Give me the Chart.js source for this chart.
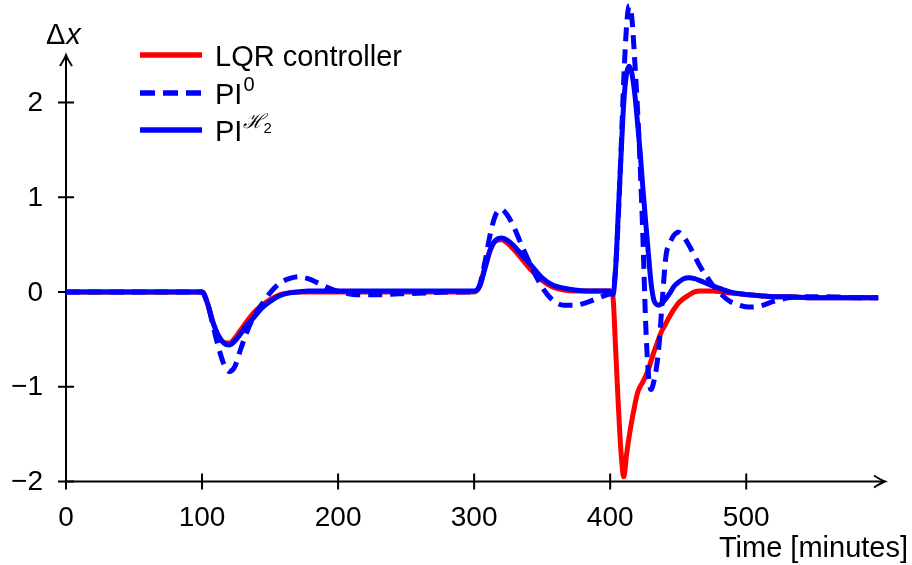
<!DOCTYPE html>
<html>
<head>
<meta charset="utf-8">
<script src="https://cdn.jsdelivr.net/npm/chart.js@4"></script>
<style>
  html, body { margin: 0; padding: 0; background: #fff; }
  #wrap { width: 912px; height: 565px; }
</style>
</head>
<body>
<div id="wrap"><canvas id="grafico"></canvas></div>
<script>
// tempo em minutos
const tempos = [0, 100, 104, 108, 112, 116, 120, 124, 128, 133, 138, 144, 150, 157, 164, 171, 178, 186, 195, 205,
  215, 228, 245, 265, 285, 300, 304, 308, 312, 316, 320, 324, 329, 335, 342, 350, 358, 366, 374, 383,
  392, 400, 402, 404, 406, 408, 410, 412, 414, 416, 418, 420, 422, 424, 426, 428, 430, 432, 434, 436,
  438, 441, 444, 447, 450, 454, 458, 462, 466, 471, 476, 482, 488, 495, 502, 510, 520, 532, 545, 560,
  580, 597];

const lqr = [0, 0, -0.12, -0.32, -0.46, -0.53, -0.54, -0.49, -0.41, -0.31, -0.22, -0.14, -0.08, -0.03, -0.01, 0, 0, 0, 0, 0,
  0, 0, 0, 0, 0, 0, 0.06, 0.27, 0.45, 0.54, 0.55, 0.52, 0.45, 0.35, 0.23, 0.12, 0.05, 0.02, 0.01, 0.01,
  0.01, 0.01, -0.05, -0.6, -1.2, -1.7, -1.95, -1.72, -1.52, -1.35, -1.2, -1.07, -1.0, -0.95, -0.89, -0.82, -0.73, -0.64, -0.56, -0.48,
  -0.41, -0.33, -0.25, -0.18, -0.12, -0.07, -0.03, 0, 0.01, 0.01, 0.01, 0, -0.01, -0.02, -0.03, -0.04, -0.05, -0.05, -0.06, -0.06,
  -0.06, -0.06];

const pi0 = [0, 0, -0.12, -0.35, -0.58, -0.76, -0.84, -0.79, -0.62, -0.42, -0.26, -0.13, -0.01, 0.09, 0.14, 0.16, 0.14, 0.09, 0.03, -0.01,
  -0.03, -0.03, -0.02, -0.01, 0, 0, 0.07, 0.32, 0.62, 0.82, 0.87, 0.82, 0.69, 0.49, 0.27, 0.05, -0.09, -0.14, -0.14, -0.11,
  -0.06, -0.02, 0, 0.25, 0.8, 1.5, 2.25, 2.8, 3.02, 2.88, 2.45, 1.95, 1.35, 0.6, -0.3, -0.85, -1.03, -0.95, -0.8, -0.55,
  -0.15, 0.38, 0.52, 0.6, 0.63, 0.58, 0.49, 0.38, 0.27, 0.16, 0.06, -0.03, -0.1, -0.14, -0.16, -0.15, -0.1, -0.06, -0.05, -0.05,
  -0.06, -0.06];

const piH2 = [0, 0, -0.12, -0.32, -0.46, -0.54, -0.56, -0.52, -0.45, -0.35, -0.27, -0.17, -0.1, -0.04, -0.01, 0, 0.01, 0.01, 0.01, 0.01,
  0.01, 0.01, 0.01, 0.01, 0.01, 0.01, 0.06, 0.25, 0.45, 0.55, 0.57, 0.55, 0.49, 0.39, 0.28, 0.15, 0.07, 0.04, 0.02, 0.01,
  0.01, 0.01, -0.03, 0.25, 0.85, 1.45, 2.0, 2.3, 2.38, 2.3, 2.1, 1.8, 1.48, 1.1, 0.75, 0.42, 0.1, -0.08, -0.13, -0.14,
  -0.12, -0.07, -0.01, 0.06, 0.1, 0.14, 0.15, 0.14, 0.12, 0.09, 0.06, 0.03, 0, -0.02, -0.03, -0.04, -0.05, -0.05, -0.06, -0.06,
  -0.06, -0.06];

const ticksX = [0, 100, 200, 300, 400, 500];
const ticksY = [-2, -1, 0, 1, 2];

const VERMELHO = "#ff0000";
const AZUL = "#0000ff";
const FONTE = "'Liberation Sans', Arial, sans-serif";

const pontos = serie => tempos.map((t, i) => ({ x: t, y: serie[i] }));

// ==========================
// EIXOS COM SETAS
// ==========================
function seta(ctx, x, y, dir) {
  ctx.save();
  ctx.translate(x, y);
  ctx.rotate(dir);
  ctx.beginPath();
  ctx.moveTo(-11, -6);
  ctx.quadraticCurveTo(-4, -1.5, 0, 0);
  ctx.quadraticCurveTo(-4, 1.5, -11, 6);
  ctx.stroke();
  ctx.restore();
}

const eixos = {
  id: "eixos",
  beforeDatasetsDraw(chart) {
    const ctx = chart.ctx;
    const sx = chart.scales.x, sy = chart.scales.y;
    const x0 = sx.getPixelForValue(0), y0 = sy.getPixelForValue(-2);
    const xFim = sx.getPixelForValue(sx.max), yFim = sy.getPixelForValue(sy.max);

    ctx.save();
    ctx.strokeStyle = "#000";
    ctx.lineWidth = 2;
    ctx.beginPath();
    ctx.moveTo(x0, y0); ctx.lineTo(xFim - 1, y0);
    ctx.moveTo(x0, y0); ctx.lineTo(x0, yFim + 1);
    ctx.stroke();
    seta(ctx, xFim, y0, 0);
    seta(ctx, x0, yFim, -Math.PI / 2);

    ctx.beginPath();
    ticksX.forEach(v => {
      const px = sx.getPixelForValue(v);
      ctx.moveTo(px, y0 - 8); ctx.lineTo(px, y0 + 8);
    });
    ticksY.forEach(v => {
      const py = sy.getPixelForValue(v);
      ctx.moveTo(x0 - 8, py); ctx.lineTo(x0 + 8, py);
    });
    ctx.stroke();

    ctx.fillStyle = "#000";
    ctx.font = "28px " + FONTE;
    ctx.textAlign = "center";
    ctx.textBaseline = "alphabetic";
    ticksX.forEach(v => ctx.fillText(String(v), sx.getPixelForValue(v), 526));
    ctx.textAlign = "right";
    ctx.textBaseline = "middle";
    ticksY.forEach(v => {
      const txt = v < 0 ? "\u2212" + Math.abs(v) : String(v);
      ctx.fillText(txt, 43, sy.getPixelForValue(v) + 1);
    });

    ctx.font = "29px " + FONTE;
    ctx.textAlign = "right";
    ctx.textBaseline = "alphabetic";
    ctx.fillText("Time [minutes]", 908, 557);

    ctx.textAlign = "left";
    ctx.fillText("\u0394", 46, 44);
    const wD = ctx.measureText("\u0394").width;
    ctx.font = "italic 29px " + FONTE;
    ctx.fillText("x", 46 + wD + 1, 44);
    ctx.restore();
  },
  afterDraw(chart) {
    // legenda desenhada à mão (sobrescritos)
    const ctx = chart.ctx;
    const linhas = [
      { cor: VERMELHO, tracejado: [], y: 55 },
      { cor: AZUL, tracejado: [15, 8], y: 93 },
      { cor: AZUL, tracejado: [], y: 130 }
    ];
    ctx.save();
    ctx.lineWidth = 5.5;
    linhas.forEach(l => {
      ctx.strokeStyle = l.cor;
      ctx.setLineDash(l.tracejado);
      ctx.beginPath();
      ctx.moveTo(140, l.y); ctx.lineTo(202, l.y);
      ctx.stroke();
    });
    ctx.setLineDash([]);
    ctx.fillStyle = "#000";
    ctx.textAlign = "left";
    ctx.textBaseline = "alphabetic";
    ctx.font = "29px " + FONTE;
    ctx.fillText("LQR controller", 215, 66);
    ctx.fillText("PI", 215, 104);
    let w = ctx.measureText("PI").width;
    ctx.font = "20px " + FONTE;
    ctx.fillText("0", 215 + w + 1, 91);
    ctx.font = "29px " + FONTE;
    ctx.fillText("PI", 215, 141);
    ctx.font = "italic 20px 'DejaVu Serif', serif";
    ctx.fillText("\u210B", 215 + w + 1, 128);
    const wH = ctx.measureText("\u210B").width;
    ctx.font = "15px " + FONTE;
    ctx.fillText("2", 215 + w + wH, 133);
    ctx.restore();
  }
};

const ctx = document.getElementById("grafico").getContext("2d");
new Chart(ctx, {
  type: "line",
  data: {
    datasets: [
      { label: "LQR controller", data: pontos(lqr), borderColor: VERMELHO, borderWidth: 5, order: 3 },
      { label: "PI\u2070", data: pontos(pi0), borderColor: AZUL, borderWidth: 5, borderDash: [14, 8], order: 2 },
      { label: "PI\u210B\u2082", data: pontos(piH2), borderColor: AZUL, borderWidth: 5, order: 1 }
    ]
  },
  options: {
    responsive: true,
    maintainAspectRatio: false,
    animation: false,
    layout: { padding: { left: 66, right: 27, top: 55, bottom: 83.5 } },
    elements: {
      point: { radius: 0 },
      line: { cubicInterpolationMode: "monotone", fill: false, borderCapStyle: "butt", borderJoinStyle: "round" }
    },
    datasets: { line: { clip: false } },
    plugins: { legend: { display: false }, tooltip: { enabled: false } },
    scales: {
      x: { type: "linear", min: 0, max: 602, display: false },
      y: { type: "linear", min: -2, max: 2.5, display: false }
    }
  },
  plugins: [eixos]
});
</script>
</body>
</html>
